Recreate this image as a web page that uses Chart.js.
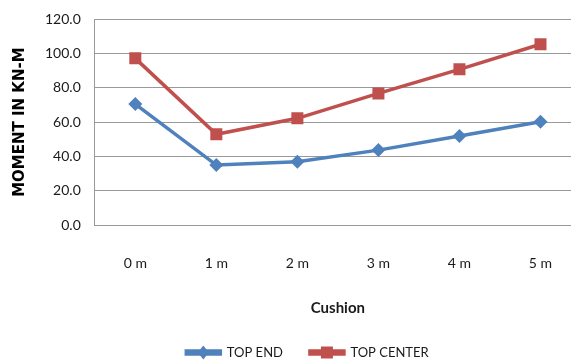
<!DOCTYPE html>
<html>
<head>
<meta charset="utf-8">
<script src="https://cdn.jsdelivr.net/npm/chart.js@4/dist/chart.umd.min.js"></script>
<style>
  html, body { margin: 0; padding: 0; background: #fff; overflow: hidden; }
  #wrap { width: 610px; height: 362px; }
</style>
</head>
<body>
<div id="wrap"><canvas id="c" width="610" height="362"></canvas></div>
<script>
// Cushion depth categories
const cushions = ['0 m', '1 m', '2 m', '3 m', '4 m', '5 m'];
// Bending moment (kN-m) at the top end and top centre
const topEnd = [70.5, 35.0, 36.9, 43.7, 51.9, 60.2];
const topCenter = [97.1, 52.9, 62.2, 76.7, 90.7, 105.3];
const yTicks = [0, 20, 40, 60, 80, 100, 120];

const BLUE = '#4F81BD';
const RED = '#C0504D';
const TEXT = '#1a1a1a';
const GRID = '#999999';

// Draw each legend entry as a line with its marker in the middle
const legendMarkers = {
  id: 'legendMarkers',
  afterDraw(chart) {
    const lg = chart.legend;
    if (!lg || !lg.legendHitBoxes) return;
    const ctx = chart.ctx;
    lg.legendHitBoxes.forEach((hb, i) => {
      const ds = chart.data.datasets[i];
      const cx = hb.left + lg.options.labels.boxWidth / 2;
      const cy = hb.top + hb.height / 2;
      ctx.save();
      ctx.fillStyle = ds.borderColor;
      ctx.beginPath();
      if (ds.pointStyle === 'rect') {
        ctx.rect(cx - 6, cy - 6, 12, 12);
      } else {
        ctx.moveTo(cx, cy - 7);
        ctx.lineTo(cx + 5.5, cy);
        ctx.lineTo(cx, cy + 7);
        ctx.lineTo(cx - 5.5, cy);
        ctx.closePath();
      }
      ctx.fill();
      ctx.restore();
    });
  }
};

new Chart(document.getElementById('c'), {
  type: 'line',
  data: {
    labels: cushions,
    datasets: [
      {
        label: 'TOP END',
        data: topEnd,
        borderColor: BLUE,
        backgroundColor: BLUE,
        borderWidth: 3.5,
        pointStyle: 'rectRot',
        pointRadius: 7,
        pointBorderWidth: 0,
        tension: 0
      },
      {
        label: 'TOP CENTER',
        data: topCenter,
        borderColor: RED,
        backgroundColor: RED,
        borderWidth: 3.5,
        pointStyle: 'rect',
        pointRadius: 8.5,
        pointBorderWidth: 0,
        tension: 0
      }
    ]
  },
  options: {
    responsive: false,
    animation: false,
    layout: { padding: { top: 19, right: 0, left: 5, bottom: -7 } },
    plugins: {
      legend: {
        position: 'bottom',
        labels: {
          boxWidth: 34,
          boxHeight: 3,
          color: TEXT,
          font: { family: 'Lato', size: 13 },
          padding: 27
        }
      },
      tooltip: { enabled: false }
    },
    scales: {
      x: {
        offset: true,
        grid: { display: false, drawTicks: false },
        border: { display: true, color: GRID },
        ticks: {
          color: TEXT,
          font: { family: 'Lato', size: 14 },
          padding: 30
        },
        title: {
          display: true,
          text: 'Cushion',
          color: TEXT,
          font: { family: 'Lato', size: 15, weight: 'bold' },
          padding: { top: -3, bottom: 2 }
        }
      },
      y: {
        min: 0,
        max: 120,
        afterBuildTicks(axis) { axis.ticks = yTicks.map(v => ({ value: v })); },
        afterFit(axis) { axis.paddingTop = 0; },
        grid: { color: GRID, lineWidth: 1, drawTicks: false },
        border: { display: true, color: GRID },
        ticks: {
          color: TEXT,
          font: { family: 'Lato', size: 14 },
          padding: 14,
          callback: v => Number(v).toFixed(1)
        },
        title: {
          display: true,
          text: 'MOMENT IN KN-M',
          color: '#000',
          font: { family: 'DejaVu Sans', size: 15, weight: 'bold' },
          padding: { top: 6, bottom: 2 }
        }
      },
      // empty right-hand axis that only reserves space past the plot edge
      yRight: {
        position: 'right',
        display: true,
        grid: { display: false, drawTicks: false },
        border: { display: false },
        ticks: { display: false },
        afterFit(axis) { axis.width = 29; axis.paddingTop = 0; }
      }
    }
  },
  plugins: [legendMarkers]
});
</script>
</body>
</html>
